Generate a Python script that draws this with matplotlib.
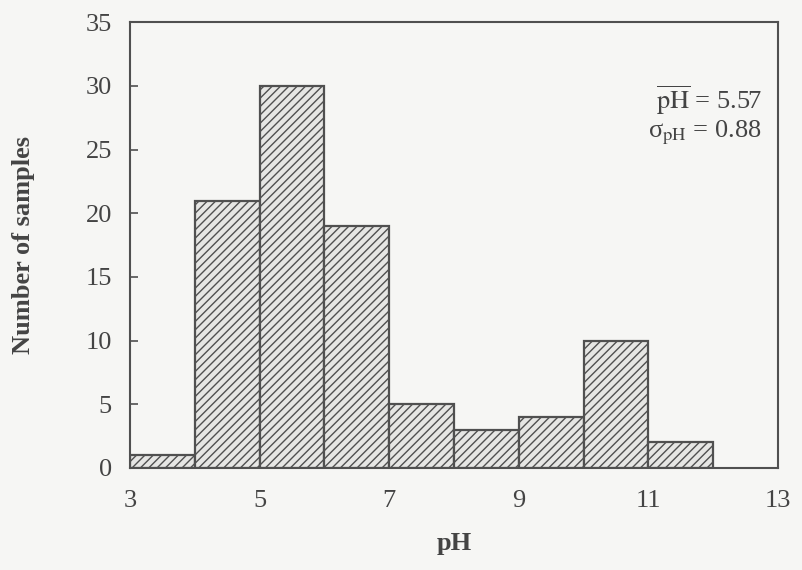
import matplotlib
matplotlib.use("Agg")
import matplotlib.pyplot as plt
import numpy as np

bin_edges = [3, 4, 5, 6, 7, 8, 9, 10, 11, 12]
counts = [1, 21, 30, 19, 5, 3, 4, 10, 2]
x_ticks = [3, 5, 7, 9, 11, 13]
y_ticks = [0, 5, 10, 15, 20, 25, 30, 35]
mean_text = r"$\overline{\mathrm{pH}}$ = 5.57"
sigma_text = r"σ$_{\mathrm{pH}}$ = 0.88"

plt.rcParams['font.family'] = ['Liberation Serif', 'DejaVu Serif']
plt.rcParams['mathtext.fontset'] = 'stix'
plt.rcParams['hatch.linewidth'] = 1.0
plt.rcParams['hatch.color'] = '#555555'

bg = '#f6f6f4'
fig = plt.figure(figsize=(8.02, 5.70), dpi=100, facecolor=bg)
ax = fig.add_axes([0.162, 0.179, 0.808, 0.782], facecolor=bg)

lefts = np.array(bin_edges[:-1])
widths = np.diff(bin_edges)
ax.bar(lefts, counts, width=widths, align='edge', color='#e6e6e4',
       edgecolor='#505050', linewidth=1.6, hatch='////')

ax.set_xlim(3, 13)
ax.set_ylim(0, 35)
ax.set_xticks(x_ticks)
ax.set_yticks(y_ticks)
ax.tick_params(axis='y', direction='in', length=6, width=1.2, color='#505050',
               labelsize=19, labelcolor='#444444', pad=13)
ax.tick_params(axis='x', direction='in', length=0, labelsize=19,
               labelcolor='#444444', pad=16)
for s in ax.spines.values():
    s.set_color('#505050')
    s.set_linewidth(1.5)

ax.set_ylabel('Number of samples', fontsize=19, fontweight='bold',
              color='#444444', labelpad=36)
ax.set_xlabel('pH', fontsize=19, fontweight='bold', color='#444444', labelpad=14)

ax.text(0.975, 0.825, mean_text, transform=ax.transAxes, ha='right', va='center',
        fontsize=19, color='#444444')
ax.text(0.975, 0.753, sigma_text, transform=ax.transAxes, ha='right', va='center',
        fontsize=19, color='#444444')

fig.savefig('out.png', dpi=100, facecolor=bg)
